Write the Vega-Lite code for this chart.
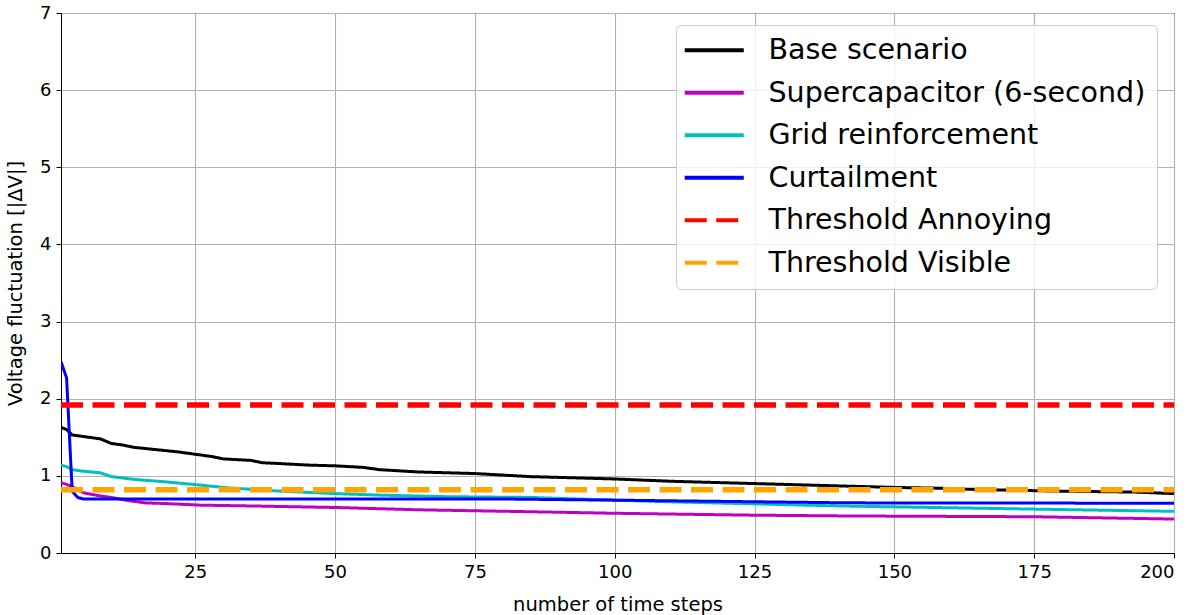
{
  "$schema": "https://vega.github.io/schema/vega-lite/v6.json",
  "autosize": {"type": "none"},
  "width": 1113,
  "height": 540,
  "padding": {"left": 61, "top": 13, "right": 16, "bottom": 62},
  "background": "white",
  "config": {
    "font": "DejaVu Sans",
    "view": {"stroke": "black", "strokeWidth": 1},
    "axis": {
      "labelFont": "DejaVu Sans",
      "labelFontSize": 18,
      "labelColor": "black",
      "titleFont": "DejaVu Sans",
      "titleFontSize": 19.5,
      "titleFontWeight": "normal",
      "titleColor": "black",
      "tickColor": "black",
      "tickSize": 5,
      "domainColor": "black",
      "gridColor": "#b0b0b0",
      "gridWidth": 1.1
    },
    "legend": {
      "symbolType": "M-3,0H3",
      "symbolSize": 387,
      "symbolStrokeWidth": 4,
      "symbolOffset": 13,
      "labelFont": "DejaVu Sans",
      "labelFontSize": 28.5,
      "labelColor": "black",
      "labelOffset": 40,
      "rowPadding": 13.5,
      "padding": 11,
      "fillColor": "rgba(255,255,255,0.8)",
      "strokeColor": "#cccccc",
      "cornerRadius": 5,
      "labelLimit": 600
    }
  },
  "datasets": {
    "series": [
      {"step": 1, "value": 1.63, "series": "Base scenario"},
      {"step": 2, "value": 1.6, "series": "Base scenario"},
      {"step": 3, "value": 1.53, "series": "Base scenario"},
      {"step": 5, "value": 1.51, "series": "Base scenario"},
      {"step": 7, "value": 1.49, "series": "Base scenario"},
      {"step": 8, "value": 1.48, "series": "Base scenario"},
      {"step": 10, "value": 1.42, "series": "Base scenario"},
      {"step": 12, "value": 1.4, "series": "Base scenario"},
      {"step": 14, "value": 1.37, "series": "Base scenario"},
      {"step": 18, "value": 1.34, "series": "Base scenario"},
      {"step": 22, "value": 1.31, "series": "Base scenario"},
      {"step": 26, "value": 1.27, "series": "Base scenario"},
      {"step": 28, "value": 1.25, "series": "Base scenario"},
      {"step": 30, "value": 1.22, "series": "Base scenario"},
      {"step": 35, "value": 1.2, "series": "Base scenario"},
      {"step": 37, "value": 1.17, "series": "Base scenario"},
      {"step": 40, "value": 1.16, "series": "Base scenario"},
      {"step": 45, "value": 1.14, "series": "Base scenario"},
      {"step": 50, "value": 1.13, "series": "Base scenario"},
      {"step": 55, "value": 1.11, "series": "Base scenario"},
      {"step": 58, "value": 1.08, "series": "Base scenario"},
      {"step": 65, "value": 1.05, "series": "Base scenario"},
      {"step": 75, "value": 1.03, "series": "Base scenario"},
      {"step": 85, "value": 0.99, "series": "Base scenario"},
      {"step": 100, "value": 0.96, "series": "Base scenario"},
      {"step": 110, "value": 0.93, "series": "Base scenario"},
      {"step": 125, "value": 0.9, "series": "Base scenario"},
      {"step": 140, "value": 0.87, "series": "Base scenario"},
      {"step": 150, "value": 0.85, "series": "Base scenario"},
      {"step": 158, "value": 0.84, "series": "Base scenario"},
      {"step": 164, "value": 0.825, "series": "Base scenario"},
      {"step": 170, "value": 0.815, "series": "Base scenario"},
      {"step": 181, "value": 0.8, "series": "Base scenario"},
      {"step": 193, "value": 0.79, "series": "Base scenario"},
      {"step": 200, "value": 0.77, "series": "Base scenario"},

      {"step": 1, "value": 0.91, "series": "Supercapacitor (6-second)"},
      {"step": 2, "value": 0.89, "series": "Supercapacitor (6-second)"},
      {"step": 3, "value": 0.86, "series": "Supercapacitor (6-second)"},
      {"step": 5, "value": 0.78, "series": "Supercapacitor (6-second)"},
      {"step": 8, "value": 0.74, "series": "Supercapacitor (6-second)"},
      {"step": 10, "value": 0.72, "series": "Supercapacitor (6-second)"},
      {"step": 13, "value": 0.68, "series": "Supercapacitor (6-second)"},
      {"step": 16, "value": 0.65, "series": "Supercapacitor (6-second)"},
      {"step": 20, "value": 0.64, "series": "Supercapacitor (6-second)"},
      {"step": 26, "value": 0.62, "series": "Supercapacitor (6-second)"},
      {"step": 35, "value": 0.61, "series": "Supercapacitor (6-second)"},
      {"step": 50, "value": 0.59, "series": "Supercapacitor (6-second)"},
      {"step": 65, "value": 0.56, "series": "Supercapacitor (6-second)"},
      {"step": 85, "value": 0.535, "series": "Supercapacitor (6-second)"},
      {"step": 100, "value": 0.515, "series": "Supercapacitor (6-second)"},
      {"step": 125, "value": 0.49, "series": "Supercapacitor (6-second)"},
      {"step": 142, "value": 0.48, "series": "Supercapacitor (6-second)"},
      {"step": 175, "value": 0.47, "series": "Supercapacitor (6-second)"},
      {"step": 200, "value": 0.44, "series": "Supercapacitor (6-second)"},

      {"step": 1, "value": 1.14, "series": "Grid reinforcement"},
      {"step": 2, "value": 1.12, "series": "Grid reinforcement"},
      {"step": 3, "value": 1.08, "series": "Grid reinforcement"},
      {"step": 5, "value": 1.06, "series": "Grid reinforcement"},
      {"step": 8, "value": 1.04, "series": "Grid reinforcement"},
      {"step": 10, "value": 0.99, "series": "Grid reinforcement"},
      {"step": 14, "value": 0.955, "series": "Grid reinforcement"},
      {"step": 20, "value": 0.92, "series": "Grid reinforcement"},
      {"step": 26, "value": 0.88, "series": "Grid reinforcement"},
      {"step": 30, "value": 0.85, "series": "Grid reinforcement"},
      {"step": 38, "value": 0.81, "series": "Grid reinforcement"},
      {"step": 50, "value": 0.77, "series": "Grid reinforcement"},
      {"step": 58, "value": 0.75, "series": "Grid reinforcement"},
      {"step": 70, "value": 0.73, "series": "Grid reinforcement"},
      {"step": 85, "value": 0.72, "series": "Grid reinforcement"},
      {"step": 109, "value": 0.665, "series": "Grid reinforcement"},
      {"step": 140, "value": 0.61, "series": "Grid reinforcement"},
      {"step": 174, "value": 0.57, "series": "Grid reinforcement"},
      {"step": 200, "value": 0.54, "series": "Grid reinforcement"},

      {"step": 1, "value": 2.48, "series": "Curtailment"},
      {"step": 2, "value": 2.27, "series": "Curtailment"},
      {"step": 3, "value": 0.8, "series": "Curtailment"},
      {"step": 4, "value": 0.72, "series": "Curtailment"},
      {"step": 5, "value": 0.7, "series": "Curtailment"},
      {"step": 20, "value": 0.7, "series": "Curtailment"},
      {"step": 50, "value": 0.7, "series": "Curtailment"},
      {"step": 80, "value": 0.7, "series": "Curtailment"},
      {"step": 100, "value": 0.685, "series": "Curtailment"},
      {"step": 142, "value": 0.65, "series": "Curtailment"},
      {"step": 200, "value": 0.645, "series": "Curtailment"}
    ],
    "thresholds": [
      {"step": 1, "value": 1.92, "series": "Threshold Annoying"},
      {"step": 200, "value": 1.92, "series": "Threshold Annoying"},
      {"step": 1, "value": 0.82, "series": "Threshold Visible"},
      {"step": 200, "value": 0.82, "series": "Threshold Visible"}
    ]
  },
  "encoding": {
    "x": {
      "field": "step", "type": "quantitative",
      "scale": {"domain": [1, 200], "nice": false, "zero": false},
      "axis": {"values": [25, 50, 75, 100, 125, 150, 175, 200], "title": "number of time steps", "labelPadding": 5, "titlePadding": 14}
    },
    "y": {
      "field": "value", "type": "quantitative",
      "scale": {"domain": [0, 7], "nice": false},
      "axis": {"values": [0, 1, 2, 3, 4, 5, 6, 7], "title": "Voltage fluctuation [|ΔV|]", "labelPadding": 5, "titlePadding": 14}
    },
    "color": {
      "field": "series", "type": "nominal",
      "scale": {
        "domain": ["Base scenario", "Supercapacitor (6-second)", "Grid reinforcement", "Curtailment", "Threshold Annoying", "Threshold Visible"],
        "range": ["#000000", "#bf00bf", "#00bfbf", "#0000ff", "#ff0000", "#ffa500"]
      },
      "legend": {"title": null, "orient": "none", "legendX": 615, "legendY": 12}
    },
    "strokeDash": {
      "field": "series", "type": "nominal",
      "scale": {
        "domain": ["Base scenario", "Supercapacitor (6-second)", "Grid reinforcement", "Curtailment", "Threshold Annoying", "Threshold Visible"],
        "range": [[1, 0], [1, 0], [1, 0], [1, 0], [22, 9.5], [22, 9.5]]
      },
      "legend": {"title": null, "orient": "none", "legendX": 615, "legendY": 12}
    }
  },
  "layer": [
    {
      "data": {"name": "series"},
      "mark": {"type": "line", "strokeWidth": 3, "clip": true}
    },
    {
      "data": {"name": "thresholds"},
      "mark": {"type": "line", "strokeWidth": 5.5, "clip": true}
    }
  ]
}
